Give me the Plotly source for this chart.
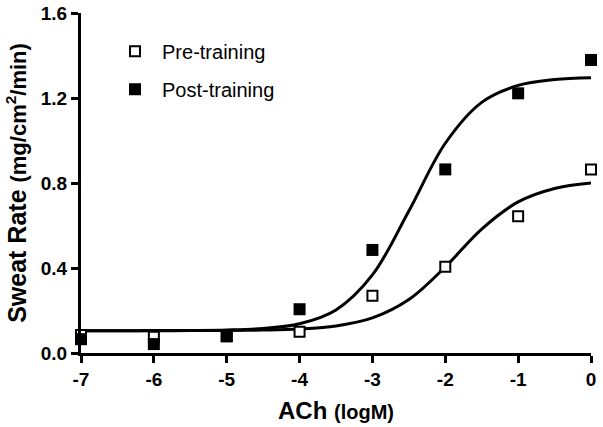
import plotly.graph_objects as go

# Measured data points (log M ACh vs sweat rate)
ach_log = [-7, -6, -5, -4, -3, -2, -1, 0]
pre_training = [0.085, 0.077, 0.08, 0.10, 0.27, 0.406, 0.643, 0.864]
post_training = [0.065, 0.042, 0.078, 0.206, 0.485, 0.864, 1.222, 1.379]

# Fitted curves
curve_x = [-7, -6.5, -6, -5.5, -5, -4.5, -4, -3.5, -3, -2.5, -2, -1.5, -1, -0.5, 0]
pre_curve = [0.105, 0.105, 0.105, 0.1054, 0.106, 0.1079, 0.1132, 0.1275, 0.165,
             0.2515, 0.4052, 0.5834, 0.7109, 0.7742, 0.800]
post_curve = [0.105, 0.1051, 0.1053, 0.1061, 0.1084, 0.1156, 0.1378, 0.2028, 0.3677,
              0.6682, 0.9871, 1.1795, 1.2591, 1.2867, 1.2958]

x_tick_vals = [-7, -6, -5, -4, -3, -2, -1, 0]
x_tick_text = ["-7", "-6", "-5", "-4", "-3", "-2", "-1", "0"]
y_tick_vals = [0.0, 0.4, 0.8, 1.2, 1.6]
y_tick_text = ["0.0", "0.4", "0.8", "1.2", "1.6"]

FONT = "Liberation Sans, Arial, sans-serif"

fig = go.Figure()
fig.add_trace(go.Scatter(x=curve_x, y=pre_curve, mode="lines",
                         line=dict(color="black", width=3, shape="spline", smoothing=1),
                         showlegend=False, hoverinfo="skip", cliponaxis=False))
fig.add_trace(go.Scatter(x=curve_x, y=post_curve, mode="lines",
                         line=dict(color="black", width=3, shape="spline", smoothing=1),
                         showlegend=False, hoverinfo="skip", cliponaxis=False))
fig.add_trace(go.Scatter(x=ach_log, y=pre_training, mode="markers", name="Pre-training",
                         marker=dict(symbol="square", size=10, color="white",
                                     line=dict(color="black", width=2)),
                         cliponaxis=False, legendgroup="a"))
fig.add_trace(go.Scatter(x=ach_log, y=post_training, mode="markers", name="Post-training",
                         marker=dict(symbol="square", size=12, color="black",
                                     line=dict(color="black", width=0)),
                         cliponaxis=False, legendgroup="b"))

fig.update_layout(
    width=603, height=427,
    margin=dict(l=81, r=12, t=13, b=74, autoexpand=False),
    paper_bgcolor="white", plot_bgcolor="white",
    font=dict(family=FONT, color="black"),
    showlegend=True,
    legend=dict(x=0.053, y=0.945, xanchor="left", yanchor="top",
                font=dict(family=FONT, size=20, color="black"),
                bgcolor="rgba(0,0,0,0)", itemwidth=44, tracegroupgap=9),
    xaxis=dict(range=[-7, 0], showgrid=False, zeroline=False, automargin=False,
               showline=True, linecolor="black", linewidth=3,
               ticks="outside", ticklen=7, tickwidth=3, tickcolor="black",
               tickvals=x_tick_vals, ticktext=x_tick_text,
               tickfont=dict(family=FONT, size=19, color="black", weight="bold"),
               title=dict(text="<b>ACh <span style='font-size:20px'>(logM)</span></b>",
                          font=dict(family=FONT, size=24, color="black"), standoff=14)),
    yaxis=dict(range=[0, 1.6], showgrid=False, zeroline=False, automargin=False,
               showline=True, linecolor="black", linewidth=3,
               ticks="outside", ticklen=7, tickwidth=3, tickcolor="black",
               tickvals=y_tick_vals, ticktext=y_tick_text,
               tickfont=dict(family=FONT, size=19, color="black", weight="bold"),
               title=dict(text="<b>Sweat Rate <span style='font-size:22px'>(mg/cm<sup>2</sup>/min)</span></b>",
                          font=dict(family=FONT, size=25, color="black"), standoff=8)),
)

fig.write_html("out.html", config={"displayModeBar": False},
               post_script="document.body.style.margin='0';")
